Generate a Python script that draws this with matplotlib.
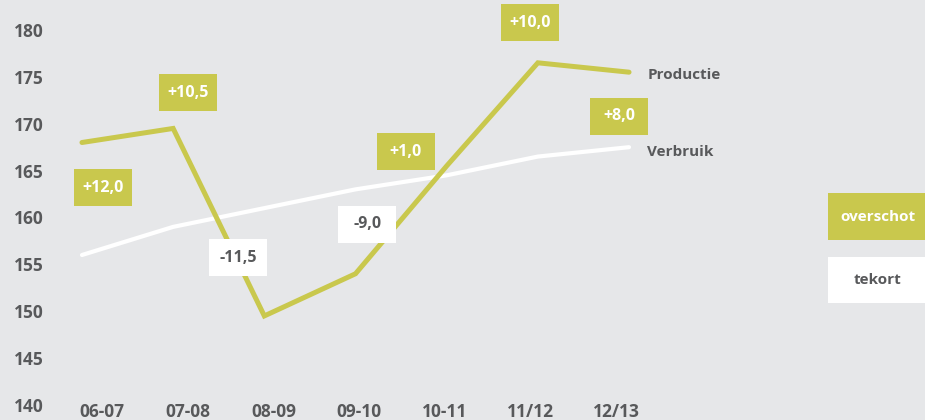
import numpy as np
import matplotlib.pyplot as plt
from matplotlib.patches import Rectangle

# ---------------------------------------------

seizoenen = ['06-07', '07-08', '08-09', '09-10', '10-11', '11/12', '12/13']
productie = [168.0, 169.5, 149.5, 154.0, 165.5, 176.5, 175.5]
verbruik = [156.0, 159.0, 161.0, 163.0, 164.5, 166.5, 167.5]
y_ticks = [140, 145, 150, 155, 160, 165, 170, 175, 180]

# plek van de labels (midden van het vakje, in data-coördinaten)
label_x = [0.23, 1.16, 1.71, 3.13, 3.55, 4.91, 5.89]
label_y = [163.2, 173.3, 155.7, 159.3, 167.0, 180.75, 170.8]

achtergrond = '#e6e7e9'
groen = '#c9c84d'
grijs = '#58595b'

plt.rcParams['font.family'] = ['Open Sans', 'DejaVu Sans']
plt.rcParams['font.weight'] = 'bold'

fig = plt.figure(figsize=(9.25, 4.2), dpi=100, facecolor=achtergrond)
ax = fig.add_axes([0, 0, 1, 1])
ax.set_facecolor(achtergrond)

# 1 eenheid x = 91.17 px, 1 eenheid y = 9.375 px
ax.set_xlim(-0.899, 9.246)
ax.set_ylim(138.4, 183.2)
for s in ax.spines.values():
    s.set_visible(False)

x = np.arange(len(seizoenen))
ax.plot(x, verbruik, color='white', linewidth=3.0, solid_capstyle='round', solid_joinstyle='miter')
ax.plot(x, productie, color=groen, linewidth=3.6, solid_capstyle='round', solid_joinstyle='miter')

ax.text(x[-1] + 0.2, productie[-1] - 0.35, 'Productie', color=grijs, fontsize=11, va='center', ha='left')
ax.text(x[-1] + 0.2, verbruik[-1] - 0.5, 'Verbruik', color=grijs, fontsize=11, va='center', ha='left')

# vakjes met verschil
bw = 58 / 91.17
bh = 37 / 9.375
for xi, yi, p, v in zip(label_x, label_y, productie, verbruik):
    d = p - v
    tekst = ('+' if d > 0 else '-') + f'{abs(d):.1f}'.replace('.', ',')
    kleur = groen if d > 0 else 'white'
    tkleur = 'white' if d > 0 else grijs
    ax.add_patch(Rectangle((xi - bw / 2, yi - bh / 2), bw, bh, facecolor=kleur, edgecolor='none', zorder=3))
    ax.text(xi, yi, tekst, color=tkleur, fontsize=11.5, ha='center', va='center', zorder=4)

# legenda
ax.add_patch(Rectangle((8.183, 157.6), 1.1, 5.0, facecolor=groen, edgecolor='none', zorder=3))
ax.add_patch(Rectangle((8.183, 150.9), 1.1, 4.9, facecolor='white', edgecolor='none', zorder=3))
ax.text(8.73, 160.1, 'overschot', color='white', fontsize=11, ha='center', va='center', zorder=4)
ax.text(8.73, 153.3, 'tekort', color=grijs, fontsize=11, ha='center', va='center', zorder=4)

# assen
ax.set_yticks(y_ticks)
ax.set_yticklabels([str(t) for t in y_ticks])
ax.set_xticks(0.22 + 0.94 * x)
ax.set_xticklabels(seizoenen)
ax.tick_params(axis='y', length=0, direction='in', pad=-31.7, labelsize=12.5, labelcolor=grijs)
ax.tick_params(axis='x', length=0, direction='in', pad=-12, labelsize=12.5, labelcolor=grijs)
for lab in ax.get_yticklabels():
    lab.set_horizontalalignment('right')

fig.savefig('out.png', dpi=100, facecolor=achtergrond)
